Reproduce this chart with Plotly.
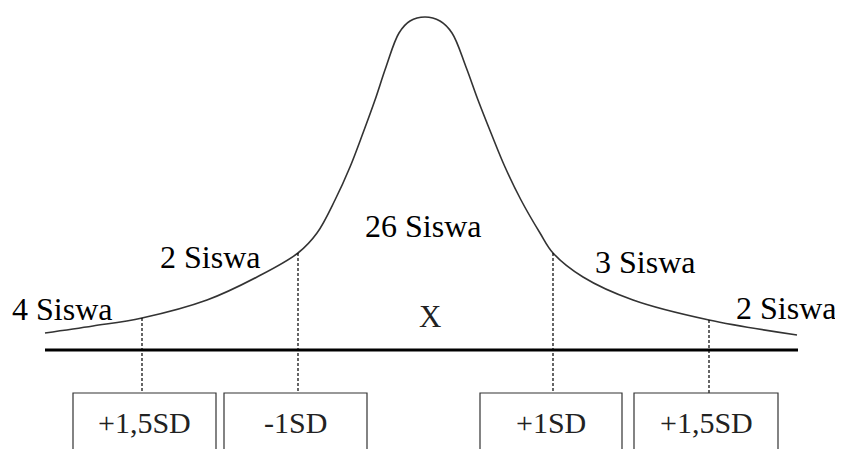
import plotly.graph_objects as go

# curve (x to the right, y downwards, in picture units)
curve_x = [45, 93, 142, 207, 257, 298, 317, 335, 350, 363, 375, 386, 399,
           410, 425, 440, 452, 466, 478, 491, 505, 521, 540, 553, 583, 633, 709, 797]
curve_y = [333, 326, 318, 300, 277, 253, 233, 200, 167, 133, 100, 67, 33,
           21, 17, 21, 33, 67, 100, 133, 167, 200, 233, 253, 277, 300, 320, 335]

# group counts written above the curve
group_labels = ["4 Siswa", "2 Siswa", "26 Siswa", "3 Siswa", "2 Siswa"]
group_x = [62, 210, 423, 645, 786]
group_y = [309, 257, 226, 262, 308]

# cut points (dashed lines) and their boxes
cut_labels = ["+1,5SD", "-1SD", "+1SD", "+1,5SD"]
cut_x = [142, 298, 553, 709]
cut_top = [318, 253, 253, 320]
box_left = [73, 224, 480, 634]
box_right = [216, 367, 622, 778]

axis_start, axis_end, axis_level = 45, 798, 350
box_top = 393

# page body has an 8px margin, so the plot area starts at 8,8
pad = 8
serif = "Liberation Serif, Times New Roman, serif"

fig = go.Figure()

fig.add_trace(go.Scatter(
    x=curve_x, y=curve_y, mode="lines",
    line=dict(color="#333333", width=1.6, shape="spline", smoothing=1.0),
    hoverinfo="skip", showlegend=False,
))

# base line
fig.add_shape(type="line", x0=axis_start, x1=axis_end, y0=axis_level, y1=axis_level,
              line=dict(color="black", width=3))

for cx, ct, bl, br, lab in zip(cut_x, cut_top, box_left, box_right, cut_labels):
    fig.add_shape(type="line", x0=cx, x1=cx, y0=ct, y1=box_top,
                  line=dict(color="black", width=1.2, dash="3px,2px"))
    fig.add_shape(type="rect", x0=bl, x1=br, y0=box_top, y1=470,
                  line=dict(color="#333333", width=1.2))
    fig.add_annotation(x=(bl + br) / 2, y=422, text=lab, showarrow=False,
                       xanchor="center", yanchor="middle",
                       font=dict(family=serif, size=30, color="#222222"))

for lab, gx, gy in zip(group_labels, group_x, group_y):
    fig.add_annotation(x=gx, y=gy, text=lab, showarrow=False,
                       xanchor="center", yanchor="middle",
                       font=dict(family=serif, size=32, color="black"))

fig.add_annotation(x=430, y=316, text="X", showarrow=False,
                   xanchor="center", yanchor="middle",
                   font=dict(family=serif, size=31, color="#222222"))

fig.update_layout(
    width=843 - pad, height=457 - 2 * pad,
    margin=dict(l=0, r=0, t=0, b=0),
    plot_bgcolor="white", paper_bgcolor="white",
    xaxis=dict(range=[pad, 843], visible=False, fixedrange=True),
    yaxis=dict(range=[457 - pad, pad], visible=False, fixedrange=True),
)

fig.write_html("out.html")
